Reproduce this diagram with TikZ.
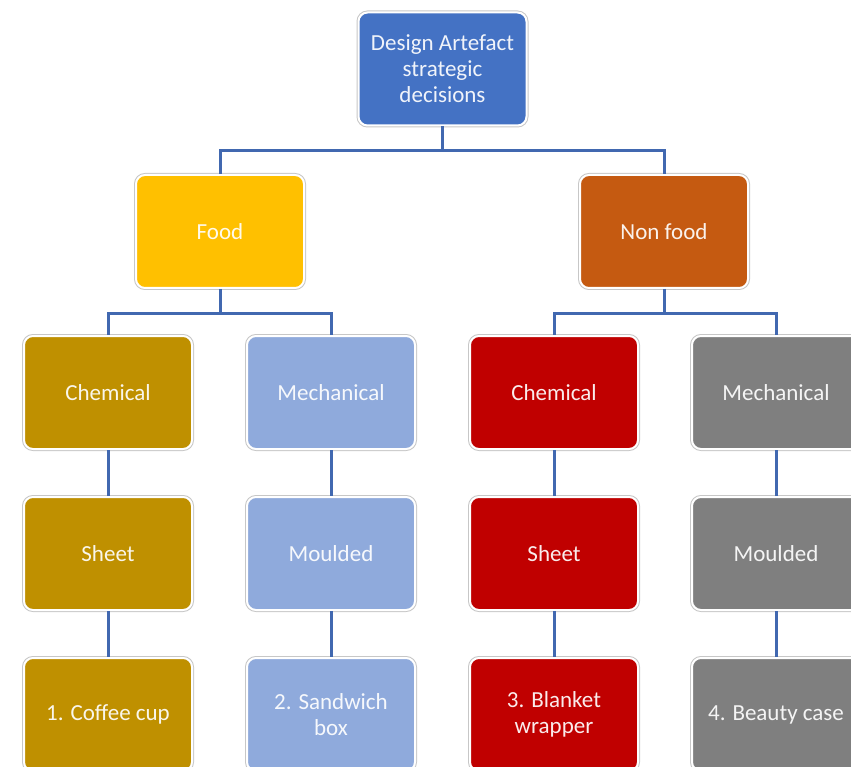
\documentclass[tikz,border=0pt]{standalone}
\usepackage{fontspec}
\setmainfont{Carlito}
\definecolor{cTop}{HTML}{4472C4}
\definecolor{cFood}{HTML}{FFC000}
\definecolor{cNon}{HTML}{C55A11}
\definecolor{cGold}{HTML}{BF9000}
\definecolor{cLblue}{HTML}{8FAADC}
\definecolor{cRed}{HTML}{C00000}
\definecolor{cGray}{HTML}{7F7F7F}
\definecolor{cLine}{HTML}{4168B0}
\tikzset{
  box/.style={rounded corners=9pt, minimum width=168pt, minimum height=113pt,
    draw=white, line width=2pt, text=white, text opacity=0.92, align=center, inner sep=2pt,
    font=\fontsize{23}{26}\selectfont,
    preaction={draw=black!22, line width=4pt}},
  conn/.style={draw=cLine, line width=3pt},
}
\begin{document}
\begin{tikzpicture}[x=1pt,y=-1pt]
\useasboundingbox (0,0) rectangle (851,767);
% nodes
\node[box, fill=cTop] (top) at (442.5,69) {Design Artefact\\strategic\\decisions};
\node[box, fill=cFood] (food) at (220,231.5) {Food};
\node[box, fill=cNon] (non) at (664,231.5) {Non food};
\node[box, fill=cGold] (chemA) at (108,392.5) {Chemical};
\node[box, fill=cLblue] (mechA) at (331,392.5) {Mechanical};
\node[box, fill=cRed] (chemB) at (554,392.5) {Chemical};
\node[box, fill=cGray] (mechB) at (776,392.5) {Mechanical};
\node[box, fill=cGold] (sheetA) at (108,553.5) {Sheet};
\node[box, fill=cLblue] (mouldA) at (331,553.5) {Moulded};
\node[box, fill=cRed] (sheetB) at (554,553.5) {Sheet};
\node[box, fill=cGray] (mouldB) at (776,553.5) {Moulded};
\node[box, fill=cGold] (cup) at (108,714.5) {1. Coffee cup};
\node[box, fill=cLblue] (sand) at (331,714.5) {2. Sandwich\\box};
\node[box, fill=cRed] (blank) at (554,714.5) {3. Blanket\\wrapper};
\node[box, fill=cGray] (beauty) at (776,714.5) {4. Beauty case};
% connectors
\draw[conn] (top.south) -- ++(0,24) -| (food.north);
\draw[conn] (top.south) ++(0,24) -| (non.north);
\draw[conn] (food.south) -- ++(0,24) -| (chemA.north);
\draw[conn] (food.south) ++(0,24) -| (mechA.north);
\draw[conn] (non.south) -- ++(0,24) -| (chemB.north);
\draw[conn] (non.south) ++(0,24) -| (mechB.north);
\draw[conn] (chemA.south) -- (sheetA.north);
\draw[conn] (sheetA.south) -- (cup.north);
\draw[conn] (mechA.south) -- (mouldA.north);
\draw[conn] (mouldA.south) -- (sand.north);
\draw[conn] (chemB.south) -- (sheetB.north);
\draw[conn] (sheetB.south) -- (blank.north);
\draw[conn] (mechB.south) -- (mouldB.north);
\draw[conn] (mouldB.south) -- (beauty.north);
\end{tikzpicture}
\end{document}
